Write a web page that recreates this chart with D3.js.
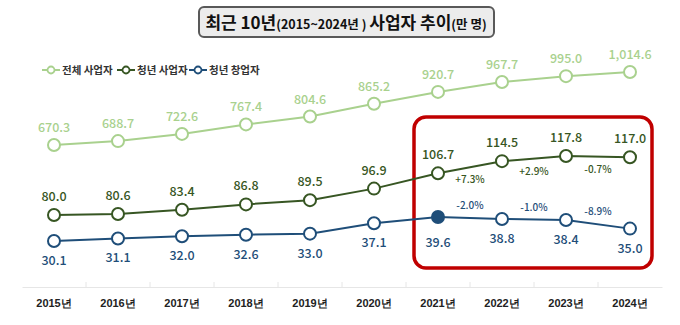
<!DOCTYPE html>
<html>
<head>
<meta charset="utf-8">
<style>
    body { margin: 0; background: #fff; }
    svg { display: block; font-family: 'Noto Sans CJK KR', 'Noto Sans', sans-serif; }
    .x .domain { stroke: #e6e6e6; }
    .x .tick line { stroke: #e6e6e6; }
    .x .tick text { font-size: 11px; font-weight: 700; fill: #222; }
    .val { font-size: 12.5px; font-weight: 500; text-anchor: middle; }
    .pct { font-size: 10px; font-weight: 500; text-anchor: middle; }
    .legend text { font-size: 10.5px; font-weight: 700; fill: #333; }
</style>
</head>
<body>
<svg width="680" height="325"></svg>
<script src="https://d3js.org/d3.v7.min.js"></script>
<script>
    let years = ["2015년", "2016년", "2017년", "2018년", "2019년", "2020년", "2021년", "2022년", "2023년", "2024년"];

    let total = [670.3, 688.7, 722.6, 767.4, 804.6, 865.2, 920.7, 967.7, 995.0, 1014.6];
    let youth = [80.0, 80.6, 83.4, 86.8, 89.5, 96.9, 106.7, 114.5, 117.8, 117.0];
    let startup = [30.1, 31.1, 32.0, 32.6, 33.0, 37.1, 39.6, 38.8, 38.4, 35.0];

    // year-over-year change labels for 2021 -> 2024
    let youthPct = ["+7.3%", "+2.9%", "-0.7%"];
    let startupPct = ["-2.0%", "-1.0%", "-8.9%"];

    let svg = d3.select("svg");

    let x = d3.scaleBand()
        .domain(years)
        .range([22, 662]);

    let cx = d => x(d) + x.bandwidth() / 2;

    // each series gets its own vertical band
    let yTotal = d3.scaleLinear().domain([670.3, 1014.6]).range([145, 72]);
    let yYouth = d3.scaleLinear().domain([80, 117.8]).range([215, 156]);
    let yStart = d3.scaleLinear().domain([30.1, 39.6]).range([241, 217]);

    let series = [
        { name: "전체 사업자", values: total, y: yTotal, color: "#a9d18e", dy: -13, fmt: d3.format(",.1f") },
        { name: "청년 사업자", values: youth, y: yYouth, color: "#375623", dy: -14, fmt: d3.format(".1f") },
        { name: "청년 창업자", values: startup, y: yStart, color: "#1f4e79", dy: 24, fmt: d3.format(".1f") }
    ];

    // x axis
    let xAxis = svg.append("g")
        .attr("class", "x axis")
        .attr("transform", "translate(0,287)")
        .call(d3.axisBottom(x).tickSize(0).tickPadding(12));

    xAxis.selectAll(".tick").each(function (d, i) {
        if (i > 0) {
            d3.select(this).append("line")
                .attr("x1", -x.step() / 2).attr("x2", -x.step() / 2)
                .attr("y1", 0).attr("y2", -5)
                .attr("stroke", "#e6e6e6");
        }
    });

    // highlight box around 2021-2024
    let boxX = x("2021년") + 8;
    svg.append("rect")
        .attr("x", boxX)
        .attr("y", 117)
        .attr("width", x("2024년") + x.bandwidth() - 10 - boxX)
        .attr("height", 151)
        .attr("rx", 12)
        .attr("fill", "none")
        .attr("stroke", "#c00000")
        .attr("stroke-width", 3.5);

    series.forEach(s => {
        let line = d3.line()
            .x((d, i) => cx(years[i]))
            .y(d => s.y(d));

        svg.append("path")
            .datum(s.values)
            .attr("d", line)
            .attr("fill", "none")
            .attr("stroke", s.color)
            .attr("stroke-width", 2);

        svg.append("g")
            .selectAll("circle")
            .data(s.values)
            .join("circle")
            .attr("cx", (d, i) => cx(years[i]))
            .attr("cy", d => s.y(d))
            .attr("r", 6)
            .attr("fill", (d, i) => (s.values === startup && i === 6) ? s.color : "#fff")
            .attr("stroke", s.color)
            .attr("stroke-width", 2);

        svg.append("g")
            .selectAll("text")
            .data(s.values)
            .join("text")
            .attr("class", "val")
            .attr("x", (d, i) => cx(years[i]))
            .attr("y", (d, i) => s.y(d) + s.dy + ((s.values === startup && i === 6) ? 6 : 0))
            .attr("fill", s.color)
            .text(d => s.fmt(d));
    });

    // change labels between 2021..2024 points
    let mid = i => (cx(years[i]) + cx(years[i + 1])) / 2;

    svg.append("g")
        .selectAll("text")
        .data(youthPct)
        .join("text")
        .attr("class", "pct")
        .attr("x", (d, i) => mid(i + 6))
        .attr("y", (d, i) => (yYouth(youth[i + 6]) + yYouth(youth[i + 7])) / 2 + 16)
        .attr("fill", "#375623")
        .text(d => d);

    svg.append("g")
        .selectAll("text")
        .data(startupPct)
        .join("text")
        .attr("class", "pct")
        .attr("x", (d, i) => mid(i + 6))
        .attr("y", (d, i) => (yStart(startup[i + 6]) + yStart(startup[i + 7])) / 2 - 9)
        .attr("fill", "#1f4e79")
        .text(d => d);

    // legend
    let legend = svg.append("g").attr("class", "legend");
    let lx = [42, 117, 189];
    series.forEach((s, i) => {
        let g = legend.append("g").attr("transform", `translate(${lx[i]},70)`);
        g.append("line").attr("x1", 0).attr("x2", 18).attr("stroke", s.color).attr("stroke-width", 2);
        g.append("circle").attr("cx", 9).attr("r", 3.5).attr("fill", "#fff")
            .attr("stroke", s.color).attr("stroke-width", 1.8);
        g.append("text").attr("x", 20).attr("y", 4).text(s.name);
    });

    // title box
    svg.append("rect")
        .attr("x", 199).attr("y", 7)
        .attr("width", 295).attr("height", 30)
        .attr("rx", 5)
        .attr("fill", "#ececec")
        .attr("stroke", "#595959")
        .attr("stroke-width", 2);

    let title = svg.append("text")
        .attr("x", 346).attr("y", 29)
        .attr("text-anchor", "middle")
        .attr("fill", "#111")
        .attr("font-weight", 700);
    title.append("tspan").attr("font-size", "17px").text("최근 10년");
    title.append("tspan").attr("font-size", "12.5px").text("(2015~2024년 ) ");
    title.append("tspan").attr("font-size", "17px").text("사업자 추이");
    title.append("tspan").attr("font-size", "12.5px").text("(만 명)");
</script>
</body>
</html>
